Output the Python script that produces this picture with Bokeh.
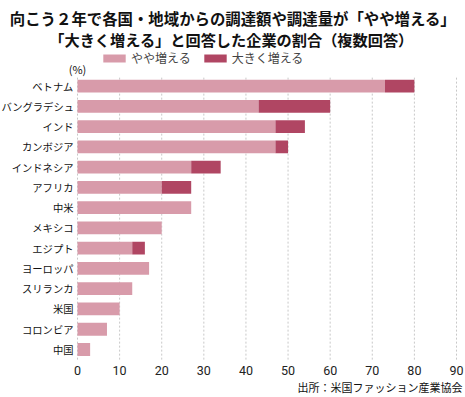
from bokeh.plotting import figure
from bokeh.models import Legend, LegendItem, Label, Range1d, ColumnDataSource
from bokeh.core.properties import value
from bokeh.embed import file_html
from bokeh.resources import INLINE

countries = ["ベトナム", "バングラデシュ", "インド", "カンボジア", "インドネシア", "アフリカ", "中米",
             "メキシコ", "エジプト", "ヨーロッパ", "スリランカ", "米国", "コロンビア", "中国"]
slightly = [73, 43, 47, 47, 27, 20, 27, 20, 13, 17, 13, 10, 7, 3]
greatly = [7, 17, 7, 3, 7, 7, 0, 0, 3, 0, 0, 0, 0, 0]
series = ["やや増える", "大きく増える"]
colors = ["#D89BAA", "#B04663"]
ticks = [0, 10, 20, 30, 40, 50, 60, 70, 80, 90]
tick_labels = ["0", "10", "20", "30", "40", "50", "60", "70", "80", "90"]

title1 = "向こう２年で各国・地域からの調達額や調達量が「やや増える」"
title2 = "「大きく増える」と回答した企業の割合（複数回答）"
source_text = "出所：米国ファッション産業協会"
unit_text = "(%)"

JP = "Noto Sans CJK JP"

# layout constants (pixels, from the top-left of the canvas)
W, H = 465, 397
X0_PX, X90_PX = 77, 456
FIRST_ROW_PX, LAST_ROW_PX = 85.7, 349
TICK_LABEL_PX = 370

n = len(countries)
pos = [n - 1 - i for i in range(n)]
src = ColumnDataSource(data={"country": countries, "y": pos,
                             "やや増える": slightly, "大きく増える": greatly})

row_px = (LAST_ROW_PX - FIRST_ROW_PX) / (n - 1)
sc = (X90_PX - X0_PX) / 90.0
y_start = -(H - LAST_ROW_PX) / row_px
x_range = Range1d(-X0_PX / sc, 90 + (W - X90_PX) / sc)
y_range = Range1d(y_start, y_start + H / row_px)

p = figure(width=W, height=H, output_backend="svg", toolbar_location=None,
           x_range=x_range, y_range=y_range, x_axis_location=None, y_axis_location=None,
           min_border_left=0, min_border_right=0, min_border_top=0, min_border_bottom=0)

p.outline_line_color = None
p.xgrid.grid_line_color = None
p.ygrid.grid_line_color = None

# dashed vertical gridlines at tick values, spanning the bar rows
p.segment(x0=ticks, x1=ticks, y0=[-0.5] * len(ticks), y1=[n - 0.5] * len(ticks),
          line_color="#C8C8C8", line_width=1, line_dash="2 2")

rs = p.hbar_stack(series, y="y", height=0.63, color=colors, line_color=None, source=src)

# category labels
p.text(x=[0] * n, y=pos, text=countries, x_offset=-4, text_align="right", text_baseline="middle",
       text_font=value(JP), text_font_size="10.3px", text_color="#111111")

# value-axis tick labels
tick_y = y_start + (H - TICK_LABEL_PX) / row_px
p.text(x=ticks, y=[tick_y] * len(ticks), text=tick_labels, text_align="center",
       text_baseline="middle", text_font=value("Roboto"), text_font_size="12.5px",
       text_color="#222222")

legend = Legend(items=[LegendItem(label=series[i], renderers=[rs[i]]) for i in range(2)],
                orientation="horizontal", location=(100, H - 66),
                glyph_width=28, glyph_height=10, label_height=14,
                label_text_font=JP, label_text_font_size="12px",
                label_standoff=3, spacing=10, padding=0, margin=0,
                border_line_color=None, background_fill_alpha=0)
p.add_layout(legend, "center")

def add_label(text, x, y, size, align, bold=False):
    p.add_layout(Label(x=x, y=H - y, x_units="screen", y_units="screen", text=text,
                       text_font=JP, text_font_size=size,
                       text_font_style="bold" if bold else "normal",
                       text_align=align, text_baseline="middle", text_color="#111111"))

add_label(title1, 232.5, 17, "15.4px", "center", bold=True)
add_label(title2, 231, 38, "15.2px", "center", bold=True)
add_label(unit_text, X0_PX, 68, "11px", "center")
add_label(source_text, 462, 386, "11px", "right")

open("out.html", "w").write(file_html(p, INLINE))
